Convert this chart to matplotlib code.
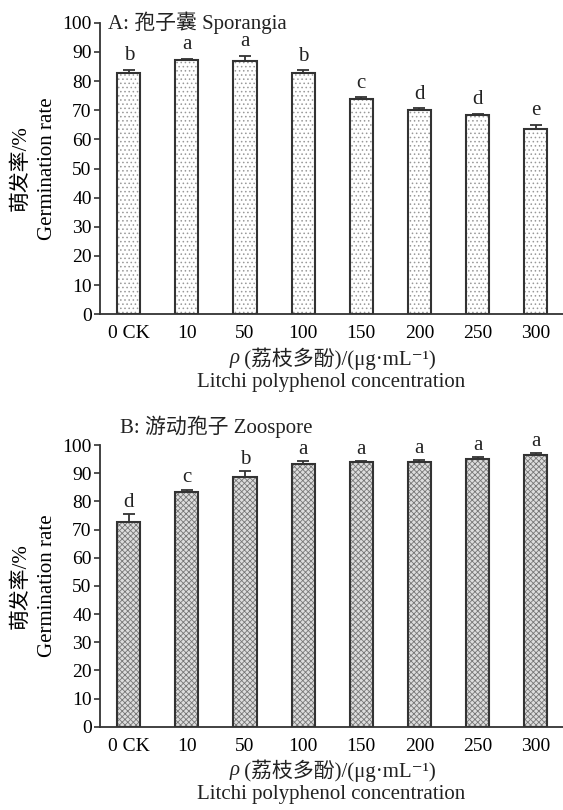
import matplotlib
matplotlib.use("Agg")
import matplotlib.pyplot as plt
import numpy as np

plt.rcParams['font.family'] = ['Liberation Serif', 'Noto Sans CJK SC', 'DejaVu Sans']

categories = ["0 CK", "10", "50", "100", "150", "200", "250", "300"]
spor_vals = [82.9, 87.3, 86.7, 82.8, 74.0, 70.2, 68.3, 63.4]
spor_err = [0.9, 0.3, 2.0, 0.9, 0.4, 0.4, 0.4, 1.5]
spor_letters = ["b", "a", "a", "b", "c", "d", "d", "e"]
zoo_vals = [72.8, 83.3, 88.8, 93.3, 93.8, 93.8, 95.2, 96.5]
zoo_err = [2.7, 0.9, 1.8, 0.9, 0.5, 0.9, 0.4, 0.5]
zoo_letters = ["d", "c", "b", "a", "a", "a", "a", "a"]
yticks = [0, 10, 20, 30, 40, 50, 60, 70, 80, 90, 100]
xlabel_cn = " (荔枝多酚)/(μg·mL⁻¹)"
xlabel_en = "Litchi polyphenol concentration"
ylabel_cn = "萌发率/%"
ylabel_en = "Germination rate"

W, H = 563, 810
fig = plt.figure(figsize=(W / 100, H / 100), dpi=100)

def px_axes(x0, y_top, x1, y_bot):
    return fig.add_axes([x0 / W, 1 - y_bot / H, (x1 - x0) / W, (y_bot - y_top) / H])

axA = px_axes(100, 22.7, 563, 314.3)
axB = px_axes(100, 445, 563, 726.7)

edge = "#333333"
fs = 14
fl = 15

def draw(ax, vals, errs, letters, hatch, hatchcol, face, title, tx, ty, hpx, lgap):
    x = np.arange(len(categories))
    plt.rcParams['hatch.linewidth'] = 0.6
    ax.bar(x, vals, width=0.40, color=face, edgecolor=hatchcol, hatch=hatch, linewidth=0, zorder=2)
    ax.bar(x, vals, width=0.40, color="none", edgecolor=edge, linewidth=1.5, zorder=3)
    ax.errorbar(x, vals, yerr=[np.zeros(len(vals)), errs], fmt="none", ecolor=edge,
                elinewidth=1.3, capsize=4, capthick=1.3, zorder=4)
    for xi, v, e, l in zip(x, vals, errs, letters):
        ax.text(xi, v + e + lgap, l, ha="center", va="bottom", fontsize=fl, color="#222222")
    ax.set_xlim(-0.494, 7.47)
    ax.set_ylim(0, 100)
    ax.set_yticks(yticks)
    ax.set_yticklabels([str(t) for t in yticks], fontsize=fs)
    ax.set_xticks(x)
    ax.set_xticklabels(categories, fontsize=fs)
    ax.tick_params(axis="x", length=0, pad=8)
    ax.tick_params(axis="y", direction="out", length=4, width=1.2, color=edge, pad=2)
    for s in ["top", "right"]:
        ax.spines[s].set_visible(False)
    for s in ["left", "bottom"]:
        ax.spines[s].set_color(edge)
        ax.spines[s].set_linewidth(1.3)
    ax.set_ylabel(ylabel_cn + "\n" + ylabel_en, fontsize=fl, labelpad=4, linespacing=1.5)
    # x label, two lines
    t1 = ax.text(0.5 + 6 / 463, -44 / hpx, xlabel_cn, transform=ax.transAxes, ha="center",
                 va="center", fontsize=fl, color="#222222")
    ax.annotate("ρ", xy=(0, 0.5), xycoords=t1, ha="right", va="center", fontsize=fl,
                fontstyle="italic", color="#222222")
    ax.text(0.5, -68 / hpx, xlabel_en, transform=ax.transAxes, ha="center", va="center",
            fontsize=fl, color="#222222")
    ax.text(tx, ty, title, ha="left", va="center", fontsize=fl, color="#222222", clip_on=False)

draw(axA, spor_vals, spor_err, spor_letters, "....", "#999999", "white",
     "A: 孢子囊 Sporangia", -0.356, 100, 291.6, 1.6)
draw(axB, zoo_vals, zoo_err, zoo_letters, "xxxxxx", "#777777", "#dddddd",
     "B: 游动孢子 Zoospore", -0.15, 106.3, 281.7, 0.8)

fig.savefig("out.png", dpi=100)
